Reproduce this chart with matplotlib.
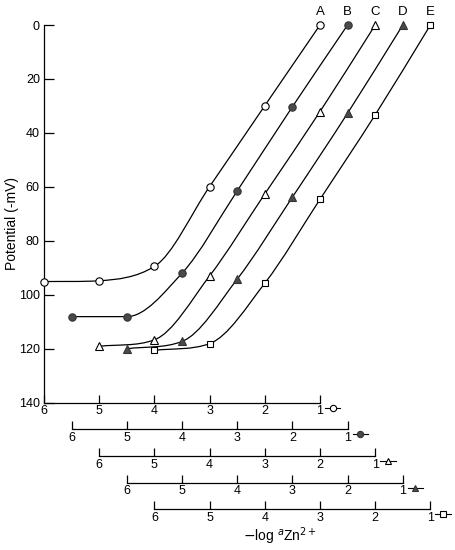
import numpy as np
import matplotlib
matplotlib.use('Agg')
import matplotlib.pyplot as plt
from matplotlib.path import Path
from matplotlib.patches import PathPatch

plt.rcParams['font.family'] = ['Liberation Sans', 'DejaVu Sans']

# ---- data ----
log_a = [6, 5, 4, 3, 2, 1]          # -log aZn2+ (each curve on its own shifted axis)
pot_A = [95.1, 94.8, 89.5, 59.9, 29.9, 0.0]
pot_B = [108.1, 108.1, 92.0, 61.5, 30.3, 0.0]
pot_C = [119.1, 116.7, 93.0, 62.6, 32.1, 0.0]
pot_D = [120.0, 117.3, 94.2, 63.8, 32.7, 0.0]
pot_E = [120.6, 118.1, 95.7, 64.6, 33.3, 0.0]
series_names = ['A', 'B', 'C', 'D', 'E']
x_ticks = [6, 5, 4, 3, 2, 1]
y_ticks = [0, 20, 40, 60, 80, 100, 120, 140]

series = [pot_A, pot_B, pot_C, pot_D, pot_E]
markers = ['o', 'o', '^', '^', 's']
faces = ['white', '#4a4a4a', 'white', '#4a4a4a', 'white']
msizes = [5.3, 5.3, 5.5, 5.5, 4.8]


def smooth_slopes(x, y):
    x = np.asarray(x, float); y = np.asarray(y, float)
    h = np.diff(x); dl = np.diff(y) / h
    n = len(x); d = np.zeros(n)
    for k in range(1, n - 1):
        if dl[k - 1] * dl[k] <= 0:
            d[k] = 0.0
        else:
            d[k] = np.sign(dl[k]) * np.sqrt(dl[k - 1] * dl[k])
    d[0] = dl[0] if abs(dl[0]) > abs(dl[1]) * 0.5 else 0.5 * dl[0]
    d[-1] = dl[-1]
    return d


def smooth_path(x, y):
    order = np.argsort(x)
    x = np.asarray(x, float)[order]; y = np.asarray(y, float)[order]
    d = smooth_slopes(x, y)
    verts = [(x[0], y[0])]; codes = [Path.MOVETO]
    for i in range(len(x) - 1):
        h = x[i + 1] - x[i]
        verts += [(x[i] + h / 3, y[i] + d[i] * h / 3),
                  (x[i + 1] - h / 3, y[i + 1] - d[i + 1] * h / 3),
                  (x[i + 1], y[i + 1])]
        codes += [Path.CURVE4] * 3
    return Path(verts, codes)


fig = plt.figure(figsize=(4.56, 5.5), dpi=100)
W, H = 456, 550
left_px, right_px, top_px, bot_px = 44, 446, 25, 402.7
rect = [left_px / W, (H - bot_px) / H, (right_px - left_px) / W, (bot_px - top_px) / H]
ppu = 55.2
xr = 6 - (right_px - left_px) / ppu
lw_ax = 0.9
shift_pt = 26.6 * 0.72

axes_list = []
for k in range(5):
    a = fig.add_axes(rect, label='curve%d' % k)
    a.patch.set_visible(False)
    a.set_xlim(6 + 0.5 * k, xr + 0.5 * k)
    a.set_ylim(140, 0)
    a.set_xticks(x_ticks)
    for s in ['top', 'right']:
        a.spines[s].set_visible(False)
    if k > 0:
        a.spines['left'].set_visible(False)
        a.yaxis.set_visible(False)
        a.spines['bottom'].set_position(('outward', shift_pt * k))
    a.spines['bottom'].set_bounds(1, 6)
    a.spines['bottom'].set_linewidth(lw_ax)
    a.tick_params(axis='x', direction='in', length=6, width=lw_ax, pad=2, labelsize=9)
    axes_list.append(a)

ax = axes_list[0]
ax.set_yticks(y_ticks)
ax.spines['left'].set_linewidth(lw_ax)
ax.tick_params(axis='y', direction='in', length=7, width=lw_ax, color='black',
               pad=3, labelsize=9)

for k, a in enumerate(axes_list):
    p = series[k]
    a.add_patch(PathPatch(smooth_path(log_a, p), facecolor='none',
                          edgecolor='black', lw=0.9, clip_on=False, zorder=2))
    a.plot(log_a, p, linestyle='none', marker=markers[k], ms=msizes[k],
           mfc=faces[k], mec='black' if faces[k] == 'white' else '#333333',
           mew=0.8, clip_on=False, zorder=3)
    a.text(1, -4.8, series_names[k], ha='center', va='center', fontsize=9.5)
    yk = 141.9 + 9.85 * k
    a.plot([0.91, 0.63], [yk, yk], color='black', lw=0.8, clip_on=False)
    a.plot([0.77], [yk], linestyle='none', marker=markers[k], ms=msizes[k] * 0.85,
           mfc=faces[k], mec='black' if faces[k] == 'white' else '#333333',
           mew=0.8, clip_on=False)

fig.text(12 / W, 1 - 224 / H, 'Potential (-mV)', rotation=90,
         ha='center', va='center', fontsize=10)
fig.text(280 / W, 1 - 536 / H, r'$-$log $^{a}$Zn$^{2+}$',
         ha='center', va='center', fontsize=10)

fig.savefig('out.png', dpi=100)
